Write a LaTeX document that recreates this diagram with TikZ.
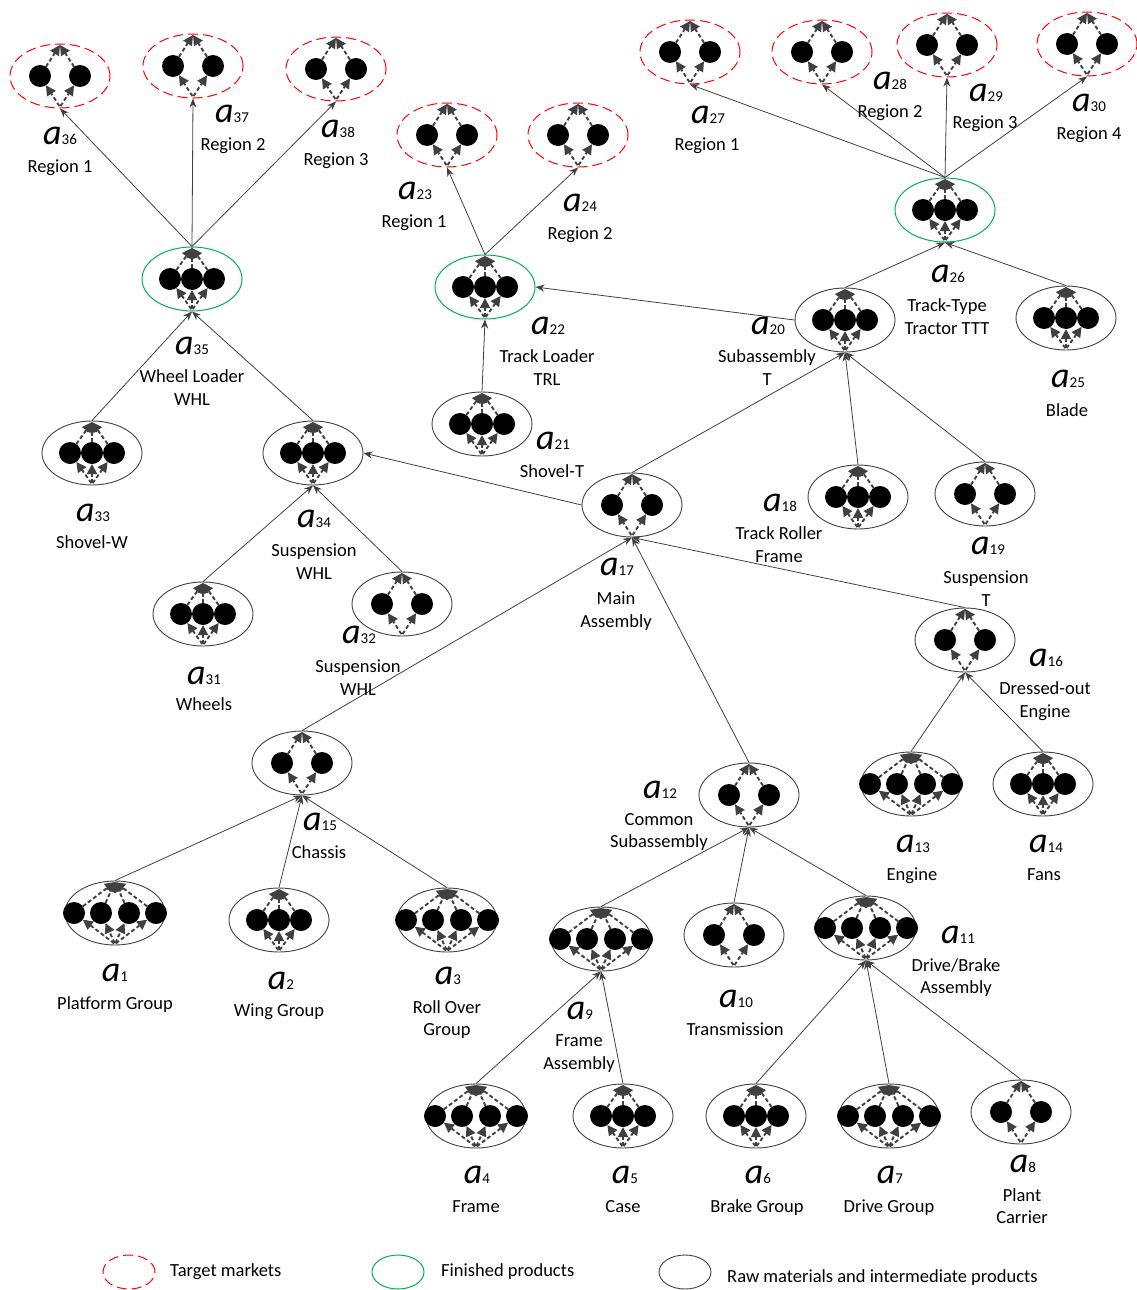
\documentclass[tikz,border=0pt]{standalone}
\usepackage{fontspec}
\setmainfont{Carlito}
\usetikzlibrary{shapes.geometric,arrows.meta}
\definecolor{ln}{HTML}{404040}
\definecolor{grn}{HTML}{00B050}
\tikzset{
 base/.style={ellipse, minimum width=100pt, minimum height=64pt, inner sep=0pt},
 market/.style={base, draw=red, dash pattern=on 10pt off 5pt, line width=1pt},
 finished/.style={base, draw=grn, line width=1pt},
 raw/.style={base, draw=ln, line width=0.9pt},
 edge/.style={draw=ln, line width=0.8pt, -{Stealth[length=9pt,width=7pt]}},
 inarr/.style={draw=ln, line width=1.9pt, dash pattern=on 4pt off 2.5pt, -{Triangle[length=10pt,width=10pt]}},
 alab/.style={font=\fontsize{36}{36}\selectfont\itshape, inner sep=0pt},
 tlab/.style={font=\fontsize{18.5}{22}\selectfont, inner sep=0pt},
}
\newcommand\ins[2]{%
 \begin{scope}[shift={(#1.center)}]
 \foreach \dx in {#2} {
   \fill (\dx,0) circle[radius=11pt];
   \draw[inarr, shorten >=11pt, shorten <=1pt] (0,31) -- (\dx,0);
   \draw[inarr, shorten <=11pt] (\dx,0) -- (0,-31);
 }
 \end{scope}}
\newcommand\mk[5]{\node[#1] (n#2) at (#3,#4) {}; \ins{n#2}{#5}}
\newcommand\al[3]{\node[alab, anchor=base] (l#1) at (#2,#3+9) {a{\fontsize{15}{15}\selectfont\upshape #1}};}
\newcommand\tl[4]{\node[tlab, anchor=base] (#1) at (#2,#3+6) {#4};}
\begin{document}
\begin{tikzpicture}[x=1pt,y=-1pt]
\useasboundingbox (0,0) rectangle (1137,1290);
% target markets
\mk{market}{36}{60}{76}{-20,20}
\mk{market}{37}{193}{66}{-20,20}
\mk{market}{38}{336}{69}{-20,20}
\mk{market}{23}{447}{135}{-20,20}
\mk{market}{24}{578}{135}{-20,20}
\mk{market}{27}{690}{52}{-20,20}
\mk{market}{28}{822}{52}{-20,20}
\mk{market}{29}{947}{45}{-20,20}
\mk{market}{30}{1087}{44}{-20,20}
% finished products
\mk{finished}{35}{192}{279}{-22,0,22}
\mk{finished}{22}{485}{287}{-22,0,22}
\mk{finished}{26}{945}{210}{-22,0,22}
% raw / intermediate
\mk{raw}{20}{845}{320}{-22,0,22}
\mk{raw}{25}{1066}{318}{-22,0,22}
\mk{raw}{33}{92}{453}{-22,0,22}
\mk{raw}{34}{313}{453}{-22,0,22}
\mk{raw}{21}{482}{424}{-22,0,22}
\mk{raw}{17}{632}{505}{-20,20}
\mk{raw}{18}{858}{497}{-22,0,22}
\mk{raw}{19}{985}{494}{-20,20}
\mk{raw}{31}{203}{614}{-22,0,22}
\mk{raw}{32}{402}{604}{-20,20}
\mk{raw}{16}{965}{640}{-20,20}
\mk{raw}{15}{302}{763}{-20,20}
\mk{raw}{12}{749}{795}{-20,20}
\mk{raw}{13}{911}{784}{-41,-14,14,41}
\mk{raw}{14}{1043}{784}{-22,0,22}
\mk{raw}{1}{115}{913}{-41,-14,14,41}
\mk{raw}{2}{279}{920}{-22,0,22}
\mk{raw}{3}{447}{920}{-41,-14,14,41}
\mk{raw}{9}{601}{939}{-41,-14,14,41}
\mk{raw}{10}{734}{935}{-20,20}
\mk{raw}{11}{866}{928}{-41,-14,14,41}
\mk{raw}{4}{476}{1116}{-41,-14,14,41}
\mk{raw}{5}{623}{1116}{-22,0,22}
\mk{raw}{6}{756}{1116}{-22,0,22}
\mk{raw}{7}{889}{1116}{-41,-14,14,41}
\mk{raw}{8}{1021}{1112}{-20,20}
% edges
\foreach \c/\p in {35/36,35/37,35/38,22/23,22/24,26/27,26/28,26/29,26/30,
  33/35,34/35,21/22,20/26,25/26,17/20,18/20,19/20,31/34,32/34,
  15/17,12/17,16/17,13/16,14/16,1/15,2/15,3/15,9/12,10/12,11/12,
  4/9,5/9,6/11,7/11,8/11}
  \draw[edge] (n\c.north) -- (n\p.south);
\draw[edge] (n20.west) -- (n22.east);
\draw[edge] (n17.west) -- (n34.east);
% labels
\al{36}{60}{135}   \tl{t36}{60}{166}{Region 1}
\al{37}{232}{113}  \tl{t37}{233}{144}{Region 2}
\al{38}{338}{128}  \tl{t38}{336}{159}{Region 3}
\al{23}{415}{190}  \tl{t23}{414}{221}{Region 1}
\al{24}{580}{202}  \tl{t24}{580}{233}{Region 2}
\al{27}{708}{114}  \tl{t27}{707}{144}{Region 1}
\al{28}{890}{80}   \tl{t28}{890}{111}{Region 2}
\al{29}{986}{92}   \tl{t29}{985}{122}{Region 3}
\al{30}{1089}{102} \tl{t30}{1089}{133}{Region 4}
\al{35}{192}{345}  \tl{t35a}{192}{376}{Wheel Loader} \tl{t35b}{192}{399}{WHL}
\al{22}{548}{325}  \tl{t22a}{547}{356}{Track Loader} \tl{t22b}{547}{379}{TRL}
\al{26}{948}{273}  \tl{t26a}{947}{305}{Track-Type} \tl{t26b}{947}{328}{Tractor TTT}
\al{20}{768}{325}  \tl{t20a}{767}{356}{Subassembly} \tl{t20b}{767}{379}{T}
\al{25}{1068}{378} \tl{t25}{1067}{410}{Blade}
\al{33}{93}{512}   \tl{t33}{92}{542}{Shovel-W}
\al{34}{314}{518}  \tl{t34a}{314}{550}{Suspension} \tl{t34b}{314}{573}{WHL}
\al{21}{553}{440}  \tl{t21}{552}{471}{Shovel-T}
\al{17}{617}{566}  \tl{t17a}{616}{598}{Main} \tl{t17b}{616}{621}{Assembly}
\al{18}{780}{502}  \tl{t18a}{779}{533}{Track Roller} \tl{t18b}{779}{556}{Frame}
\al{19}{988}{545}  \tl{t19a}{986}{577}{Suspension} \tl{t19b}{986}{600}{T}
\al{31}{204}{675}  \tl{t31}{204}{704}{Wheels}
\al{32}{359}{634}  \tl{t32a}{358}{666}{Suspension} \tl{t32b}{358}{689}{WHL}
\al{16}{1046}{657} \tl{t16a}{1045}{688}{Dressed-out} \tl{t16b}{1045}{711}{Engine}
\al{15}{320}{821}  \tl{t15}{319}{852}{Chassis}
\al{12}{660}{789}  \tl{t12a}{659}{819}{Common} \tl{t12b}{659}{841}{Subassembly}
\al{13}{913}{843}  \tl{t13}{912}{874}{Engine}
\al{14}{1046}{843} \tl{t14}{1044}{874}{Fans}
\al{1}{115}{972}   \tl{t1}{115}{1003}{Platform Group}
\al{2}{281}{980}   \tl{t2}{279}{1010}{Wing Group}
\al{3}{448}{975}   \tl{t3a}{447}{1007}{Roll Over} \tl{t3b}{447}{1029}{Group}
\al{9}{580}{1010}  \tl{t9a}{579}{1040}{Frame} \tl{t9b}{579}{1063}{Assembly}
\al{10}{736}{998}  \tl{t10}{735}{1029}{Transmission}
\al{11}{958}{934}  \tl{t11a}{956}{965}{Drive/Brake} \tl{t11b}{956}{987}{Assembly}
\al{4}{477}{1174}  \tl{t4}{476}{1206}{Frame}
\al{5}{625}{1174}  \tl{t5}{623}{1206}{Case}
\al{6}{758}{1174}  \tl{t6}{757}{1206}{Brake Group}
\al{7}{890}{1174}  \tl{t7}{889}{1206}{Drive Group}
\al{8}{1023}{1163} \tl{t8a}{1022}{1195}{Plant} \tl{t8b}{1022}{1217}{Carrier}
% legend
\node[market, minimum width=52pt, minimum height=34pt] (lg1) at (129,1272) {};
\node[tlab, anchor=west] (lt1) at (170,1272) {Target markets};
\node[finished, minimum width=52pt, minimum height=34pt] (lg2) at (398,1272) {};
\node[tlab, anchor=west] (lt2) at (441,1272) {Finished products};
\node[raw, minimum width=52pt, minimum height=34pt] (lg3) at (685,1272) {};
\node[tlab, anchor=west] (lt3) at (727,1278) {Raw materials and intermediate products};
\end{tikzpicture}
\end{document}
